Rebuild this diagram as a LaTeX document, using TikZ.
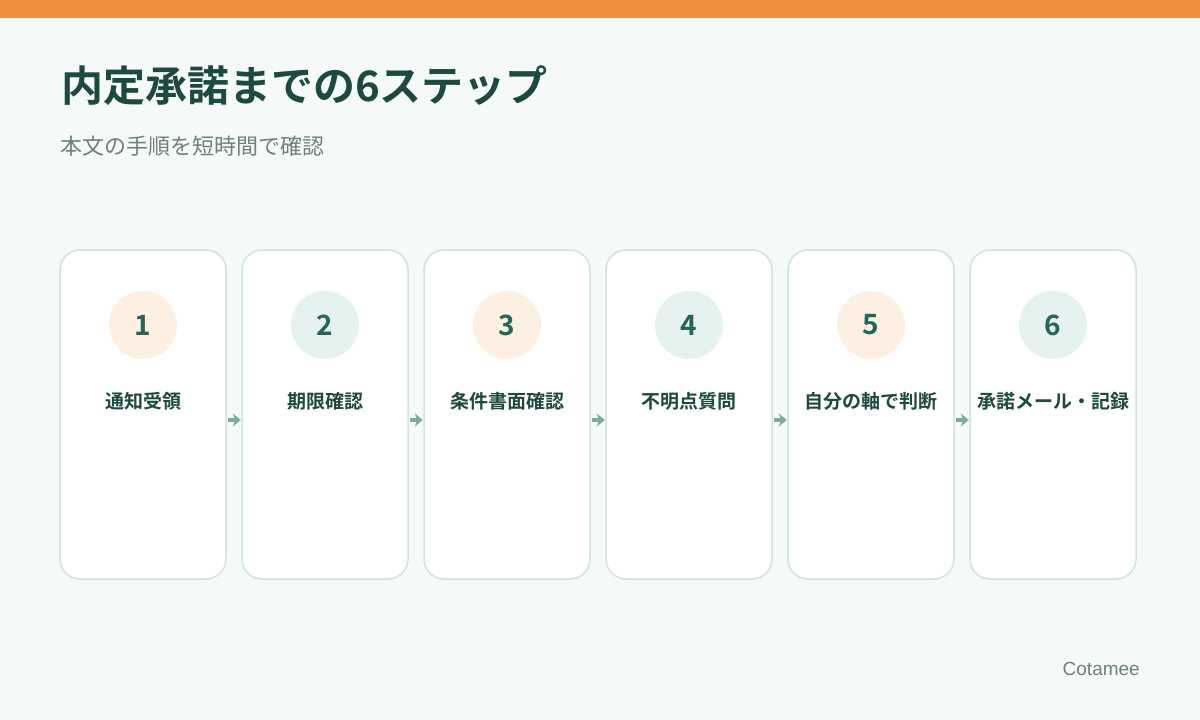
\documentclass[tikz,border=0pt]{standalone}
\usepackage{fontspec}
\setmainfont{Liberation Sans}
\newfontfamily\jpfont{Noto Sans CJK JP}
\newfontfamily\jpbold{Noto Sans CJK JP Bold}
\usetikzlibrary{arrows.meta}

\definecolor{BgPaper}{HTML}{F5F9F8}
\definecolor{TopBar}{HTML}{F08E3C}
\definecolor{InkDark}{HTML}{1C4A40}
\definecolor{InkNum}{HTML}{23665A}
\definecolor{InkGray}{HTML}{6E817C}
\definecolor{CardLine}{HTML}{D0E3DE}
\definecolor{DotOrange}{HTML}{FDF0E2}
\definecolor{DotTeal}{HTML}{E6F2EF}
\definecolor{ArrowTeal}{HTML}{7AABA0}

\tikzset{
  stepcard/.style={draw=CardLine, line width=1.5pt, fill=white, rounded corners=20pt,
    minimum width=166pt, minimum height=329pt, inner sep=0pt},
  stepdot/.style={circle, minimum size=68pt, inner sep=0pt, text=InkNum,
    font=\jpbold\fontsize{28}{30}\selectfont},
  steplabel/.style={text=InkDark, font=\jpbold\fontsize{19}{21}\selectfont, inner sep=0pt},
  flowarrow/.style={draw=ArrowTeal, line width=4pt, shorten <=1.5pt, shorten >=0.5pt,
    -{Stealth[length=8pt,width=13pt,inset=2.5pt]}}
}

\begin{document}
\begin{tikzpicture}[x=1pt,y=-1pt]
\fill[BgPaper] (0,0) rectangle (1200,720);
\fill[TopBar] (0,0) rectangle (1200,18);
\useasboundingbox (0,0) rectangle (1200,720);

\node[anchor=base west, inner sep=0pt, text=InkDark, font=\jpbold\fontsize{42}{46}\selectfont]
  (title) at (61,101) {内定承諾までの6ステップ};
\node[anchor=base west, inner sep=0pt, text=InkGray, font=\jpfont\fontsize{22}{24}\selectfont]
  (subtitle) at (60,154) {本文の手順を短時間で確認};

% six steps
\foreach \i/\txt/\tint in {1/通知受領/DotOrange, 2/期限確認/DotTeal, 3/条件書面確認/DotOrange,
    4/不明点質問/DotTeal, 5/自分の軸で判断/DotOrange, 6/承諾メール・記録/DotTeal} {
  \node[stepcard] (card\i) at (143+182*\i-182, 414.5) {};
  \node[stepdot, fill=\tint] (dot\i) at (143+182*\i-182, 325) {\i};
  \node[steplabel] (lbl\i) at (143+182*\i-182, 401) {\txt};
}

\foreach \i [evaluate=\i as \j using int(\i+1)] in {1,...,5}
  \draw[flowarrow] ([yshift=-5.5pt]card\i.east) -- ([yshift=-5.5pt]card\j.west);

\node[anchor=base east, inner sep=0pt, text=InkGray, font=\fontsize{19}{22}\selectfont]
  (brand) at (1140,675) {Cotamee};
\end{tikzpicture}
\end{document}
